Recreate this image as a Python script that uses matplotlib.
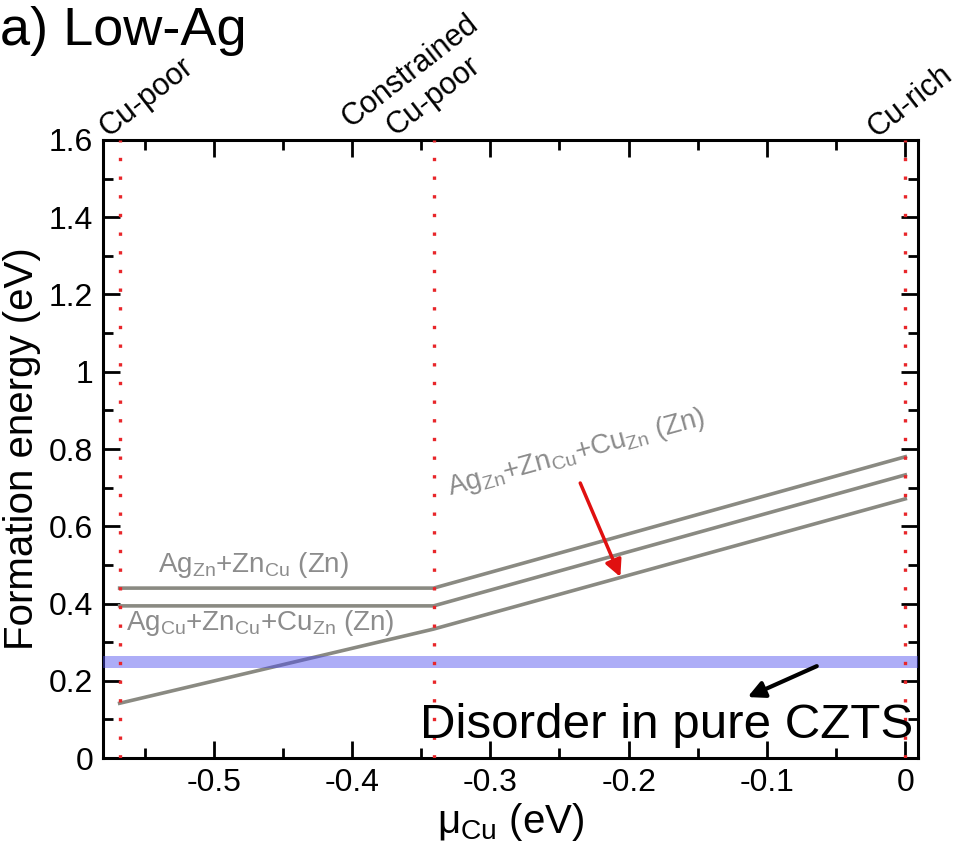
import matplotlib
matplotlib.use("Agg")
import matplotlib.pyplot as plt
from matplotlib.ticker import MultipleLocator

plt.rcParams['font.family'] = ['Liberation Sans', 'DejaVu Sans']
plt.rcParams['mathtext.fontset'] = 'custom'
plt.rcParams['mathtext.rm'] = 'Liberation Sans'
plt.rcParams['mathtext.it'] = 'Liberation Sans:italic'
plt.rcParams['mathtext.bf'] = 'Liberation Sans:bold'

# ---- data ----
mu_nodes = [-0.568, -0.341, 0.0]
e_agzn_zncu = [0.44, 0.44, 0.78]
e_agzn_zncu_cuzn = [0.394, 0.394, 0.733]
e_agcu_zncu_cuzn = [0.142, 0.334, 0.671]
disorder_level = 0.248
disorder_halfwidth = 0.016
limit_positions = [-0.568, -0.341, 0.0]
limit_labels = ["Cu-poor", "Constrained", "Cu-poor", "Cu-rich"]
xticks = [-0.5, -0.4, -0.3, -0.2, -0.1, 0.0]
xticklabels = ["-0.5", "-0.4", "-0.3", "-0.2", "-0.1", "0"]
yticks = [0, 0.2, 0.4, 0.6, 0.8, 1.0, 1.2, 1.4, 1.6]
yticklabels = ["0", "0.2", "0.4", "0.6", "0.8", "1", "1.2", "1.4", "1.6"]

fig = plt.figure(figsize=(9.63, 8.48), dpi=100)
ax = fig.add_axes([0.107, 0.106, 0.846, 0.729])

gray = '#8a8a82'
ax.plot(mu_nodes, e_agzn_zncu, color=gray, lw=2.6, zorder=2)
ax.plot(mu_nodes, e_agzn_zncu_cuzn, color=gray, lw=2.6, zorder=2)
ax.plot(mu_nodes, e_agcu_zncu_cuzn, color=gray, lw=2.6, zorder=2)

ax.axhspan(disorder_level - disorder_halfwidth, disorder_level + disorder_halfwidth,
           color='#4a4aee', alpha=0.45, lw=0, zorder=3)

for xp in limit_positions:
    ax.axvline(xp, color='#e8262a', lw=2.4, ls=(0, (1, 4.6)), zorder=4)

ax.set_xlim(-0.58, 0.009)
ax.set_ylim(0, 1.6)
ax.set_xticks(xticks)
ax.set_xticklabels(xticklabels)
ax.set_yticks(yticks)
ax.set_yticklabels(yticklabels)
ax.xaxis.set_minor_locator(MultipleLocator(0.05))
ax.yaxis.set_minor_locator(MultipleLocator(0.1))
ax.tick_params(which='both', direction='in', top=True, right=True, width=2)
ax.tick_params(which='major', length=12, labelsize=23, pad=7)
ax.tick_params(which='minor', length=7)
for s in ax.spines.values():
    s.set_linewidth(2.2)

ax.set_xlabel("μ$_{\\mathrm{Cu}}$ (eV)", fontsize=29, labelpad=2)
ax.set_ylabel("Formation energy (eV)", fontsize=29, labelpad=6)

# text labels
tcol = '#8c8c8c'
ax.text(-0.540, 0.482, r"Ag$_{\mathrm{Zn}}$+Zn$_{\mathrm{Cu}}$ (Zn)", color=tcol, fontsize=20)
ax.text(-0.5635, 0.332, r"Ag$_{\mathrm{Cu}}$+Zn$_{\mathrm{Cu}}$+Cu$_{\mathrm{Zn}}$ (Zn)", color=tcol, fontsize=20)
ax.text(-0.3296, 0.681, r"Ag$_{\mathrm{Zn}}$+Zn$_{\mathrm{Cu}}$+Cu$_{\mathrm{Zn}}$ (Zn)", color=tcol,
        fontsize=20, rotation=15.5, rotation_mode='anchor', ha='left', va='baseline')

ax.annotate("", xy=(-0.206, 0.469), xytext=(-0.235, 0.712),
            arrowprops=dict(arrowstyle='-|>', color='#e01010', lw=2.5, mutation_scale=25,
                            shrinkA=0, shrinkB=0), zorder=6)

ax.text(-0.3505, 0.052, "Disorder in pure CZTS", color='black', fontsize=35.5, zorder=7)
ax.annotate("", xy=(-0.114, 0.158), xytext=(-0.064, 0.238),
            arrowprops=dict(arrowstyle='-|>', color='black', lw=3, mutation_scale=25,
                            shrinkA=0, shrinkB=0), zorder=6)

# top labels
trans = ax.get_xaxis_transform()
top_pos = [(-0.5765, 1.004), (-0.401, 1.020), (-0.3686, 1.005), (-0.0206, 1.003)]
for (xp, yp), lab in zip(top_pos, limit_labels):
    ax.text(xp, yp, lab, transform=trans, fontsize=22, rotation=38,
            rotation_mode='anchor', ha='left', va='baseline', clip_on=False)

fig.text(0.0, 0.947, "a) Low-Ag", fontsize=39, ha='left', va='baseline')

fig.savefig("out.png", dpi=100)
